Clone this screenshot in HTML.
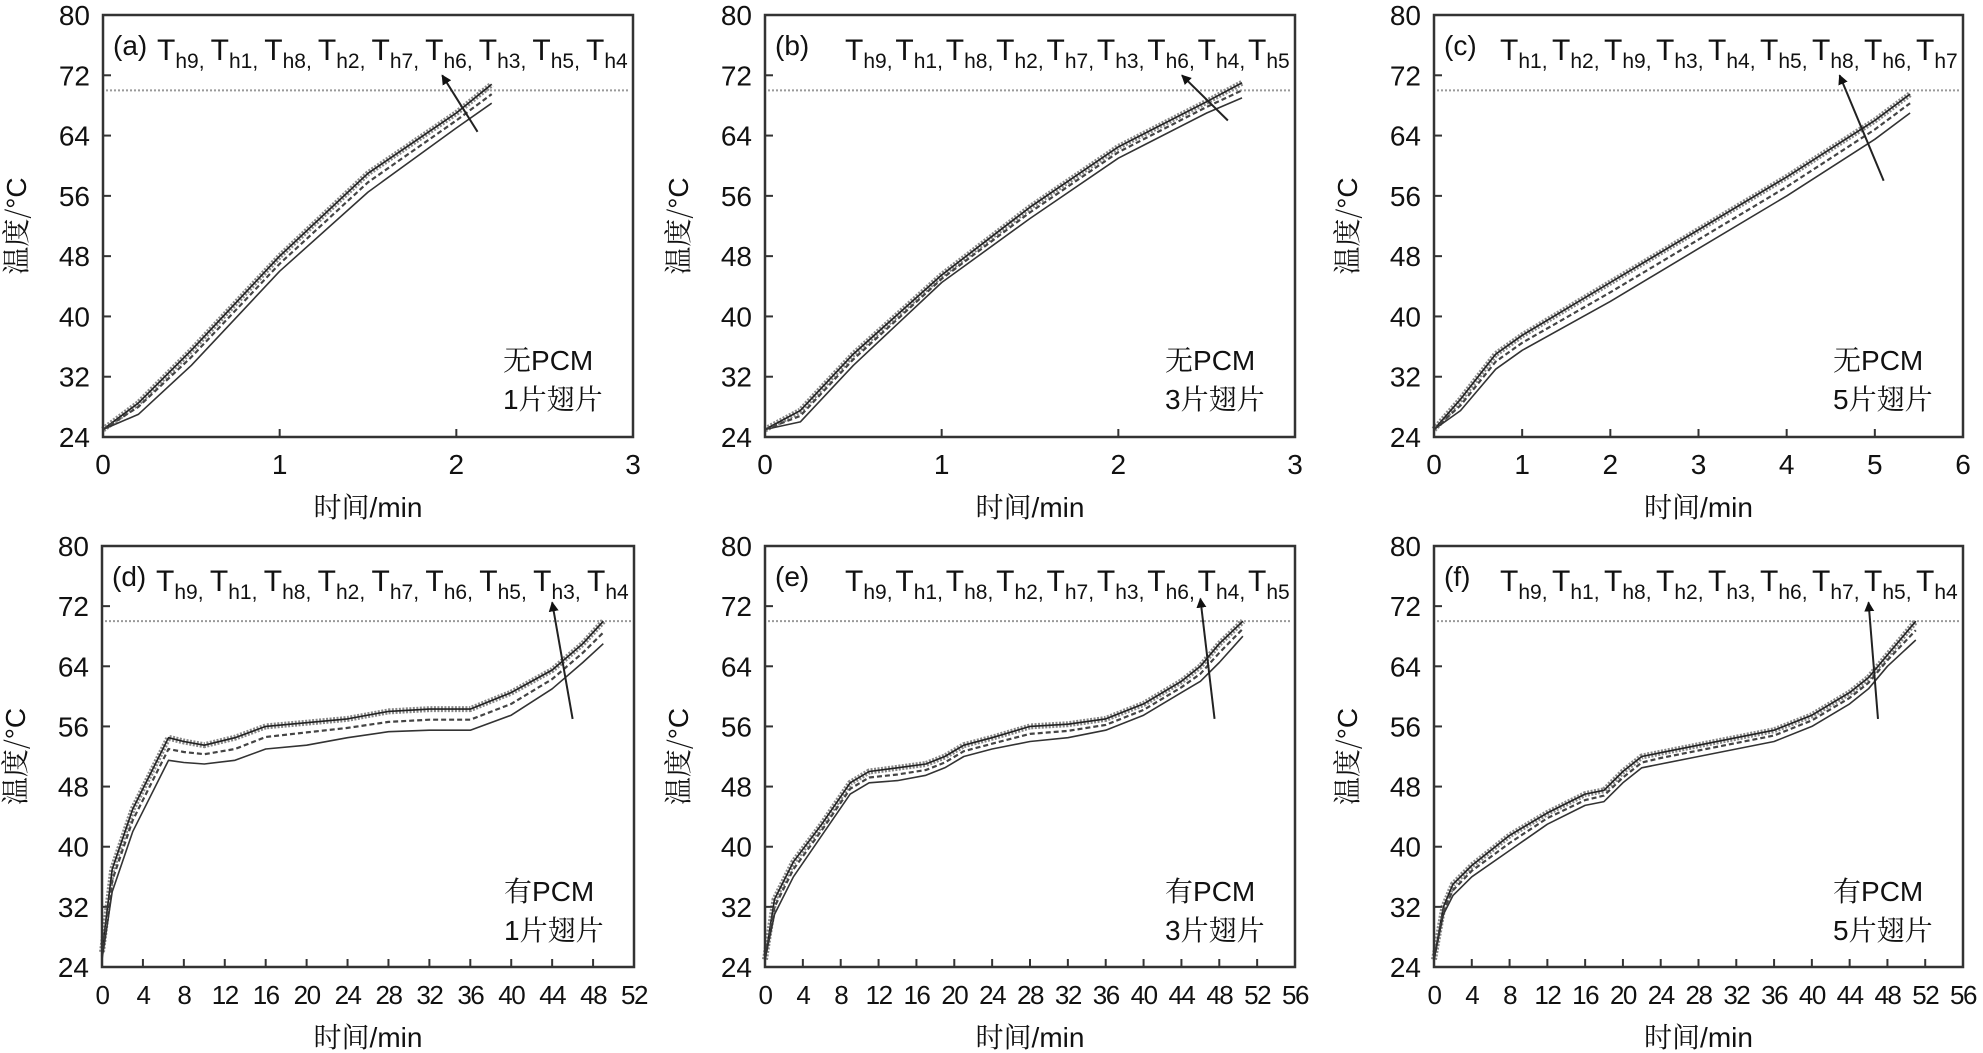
<!DOCTYPE html>
<html><head><meta charset="utf-8">
<style>
html,body{margin:0;padding:0;background:#fff;}
svg{display:block;}
text{fill:#111;}
</style></head>
<body>
<svg id="fig" width="1983" height="1053" viewBox="0 0 1983 1053" xmlns="http://www.w3.org/2000/svg"></svg>
<script>
// ---- data ----
const yTicks = [24, 32, 40, 48, 56, 64, 72, 80];
const xTicksA = [0, 1, 2, 3];
const xTicksB = [0, 1, 2, 3];
const xTicksC = [0, 1, 2, 3, 4, 5, 6];
const xTicksD = [0, 4, 8, 12, 16, 20, 24, 28, 32, 36, 40, 44, 48, 52];
const xTicksE = [0, 4, 8, 12, 16, 20, 24, 28, 32, 36, 40, 44, 48, 52, 56];
const xTicksF = [0, 4, 8, 12, 16, 20, 24, 28, 32, 36, 40, 44, 48, 52, 56];
const limitTemp = 70;

const labelsA = ["h9","h1","h8","h2","h7","h6","h3","h5","h4"];
const labelsB = ["h9","h1","h8","h2","h7","h3","h6","h4","h5"];
const labelsC = ["h1","h2","h9","h3","h4","h5","h8","h6","h7"];
const labelsD = ["h9","h1","h8","h2","h7","h6","h5","h3","h4"];
const labelsE = ["h9","h1","h8","h2","h7","h3","h6","h4","h5"];
const labelsF = ["h9","h1","h8","h2","h3","h6","h7","h5","h4"];

// panel a
const timeA  = [0, 0.2, 0.5, 1, 1.5, 2, 2.2];
const upperA = [25, 28.5, 35.5, 48, 59, 67, 70.8];
const midA   = [25, 28, 34.6, 47, 57.8, 66, 69.5];
const lowerA = [25, 27, 33.5, 46, 56.5, 65, 68.3];
// panel b
const timeB  = [0, 0.2, 0.5, 1, 1.5, 2, 2.5, 2.7];
const upperB = [25, 27.5, 35, 45.5, 54.5, 62.5, 68.5, 71];
const midB   = [25, 26.8, 34.3, 45, 53.8, 61.8, 67.8, 70];
const lowerB = [25, 26, 33.5, 44.5, 53, 61, 67, 69];
// panel c
const timeC  = [0, 0.3, 0.7, 1, 2, 3, 4, 5, 5.4];
const upperC = [25, 29, 35, 37.5, 44.5, 51.5, 58.5, 66, 69.5];
const midC   = [25, 28.2, 34, 36.5, 43.2, 50.2, 57.2, 64.8, 68.3];
const lowerC = [25, 27.5, 33, 35.5, 42, 49, 56, 63.5, 67];
// panel d
const timeD  = [0, 1, 3, 6.5, 8, 10, 13, 16, 20, 24, 28, 32, 36, 40, 44, 47, 49];
const upperD = [26, 37, 45, 54.5, 54, 53.5, 54.5, 56, 56.5, 57, 58, 58.3, 58.3, 60.5, 63.5, 67, 70];
const midD   = [25.5, 35.5, 43.5, 53, 52.6, 52.3, 53, 54.6, 55.2, 55.8, 56.6, 56.9, 56.9, 59, 62.3, 65.8, 68.5];
const lowerD = [25, 34, 42, 51.5, 51.2, 51, 51.5, 53, 53.5, 54.5, 55.3, 55.5, 55.5, 57.5, 61, 64.5, 67];
// panel e
const timeE  = [0, 1, 3, 6, 9, 11, 14, 17, 19, 21, 24, 28, 32, 36, 40, 44, 46, 48, 50.5];
const upperE = [25, 33, 38, 43, 48.5, 50, 50.5, 51, 52, 53.5, 54.5, 56, 56.3, 57, 59, 62, 64, 67, 70];
const midE   = [25, 32, 37, 42.2, 47.7, 49.2, 49.6, 50.2, 51.2, 52.7, 53.7, 55, 55.4, 56.2, 58.2, 61.2, 63, 65.8, 69];
const lowerE = [25, 31, 36, 41.5, 47, 48.5, 48.8, 49.5, 50.5, 52, 53, 54, 54.5, 55.5, 57.5, 60.5, 62, 64.5, 68];
// panel f
const timeF  = [0, 1, 2, 4, 8, 12, 16, 18, 20, 22, 24, 28, 32, 36, 40, 44, 46, 48, 51];
const upperF = [25, 32, 35, 37.5, 41.5, 44.5, 47, 47.5, 50, 52, 52.5, 53.5, 54.5, 55.5, 57.5, 60.5, 62.5, 65.5, 70];
const midF   = [25, 31.5, 34.2, 36.8, 40.5, 43.8, 46.2, 46.8, 49.2, 51.2, 51.8, 52.8, 53.8, 54.8, 56.8, 59.8, 61.8, 64.8, 68.8];
const lowerF = [25, 31, 33.5, 36, 39.5, 43, 45.5, 46, 48.5, 50.5, 51, 52, 53, 54, 56, 59, 61, 64, 67.5];

// arrows [x0,y0,x1,y1] in data units (tail -> head)
const arrowA = [2.12, 64.5, 1.92, 72];
const arrowB = [2.62, 66, 2.36, 72];
const arrowC = [5.1, 58, 4.6, 72];
const arrowD = [46, 57, 44, 72.5];
const arrowE = [47.5, 57, 46, 73];
const arrowF = [47, 57, 46, 72.5];

const panels = [
 {id:"a", tag:"(a)", lx:54, left:103, top:15, w:530, h:422, xmax:3, xt:xTicksA, t:timeA, up:upperA, mid:midA, lo:lowerA, labels:labelsA, arrow:arrowA, pcm:"无PCM", fin:"1片翅片"},
 {id:"b", tag:"(b)", lx:80, left:765, top:15, w:530, h:422, xmax:3, xt:xTicksB, t:timeB, up:upperB, mid:midB, lo:lowerB, labels:labelsB, arrow:arrowB, pcm:"无PCM", fin:"3片翅片"},
 {id:"c", tag:"(c)", lx:66, left:1434, top:15, w:529, h:422, xmax:6, xt:xTicksC, t:timeC, up:upperC, mid:midC, lo:lowerC, labels:labelsC, arrow:arrowC, pcm:"无PCM", fin:"5片翅片"},
 {id:"d", tag:"(d)", lx:54, left:102, top:546, w:532, h:421, xmax:52, xt:xTicksD, t:timeD, up:upperD, mid:midD, lo:lowerD, labels:labelsD, arrow:arrowD, pcm:"有PCM", fin:"1片翅片"},
 {id:"e", tag:"(e)", lx:80, left:765, top:546, w:530, h:421, xmax:56, xt:xTicksE, t:timeE, up:upperE, mid:midE, lo:lowerE, labels:labelsE, arrow:arrowE, pcm:"有PCM", fin:"3片翅片"},
 {id:"f", tag:"(f)", lx:66, left:1434, top:546, w:529, h:421, xmax:56, xt:xTicksF, t:timeF, up:upperF, mid:midF, lo:lowerF, labels:labelsF, arrow:arrowF, pcm:"有PCM", fin:"5片翅片"}
];

const NS = "http://www.w3.org/2000/svg";
const svg = document.getElementById("fig");
const SANS = '"Liberation Sans", "Noto Sans CJK SC", sans-serif';
const SERIFCJK = '"Noto Serif CJK SC", "Liberation Serif", serif';

function mk(tag, attrs, parent){
  const e = document.createElementNS(NS, tag);
  for (const k in attrs) e.setAttribute(k, attrs[k]);
  parent.appendChild(e);
  return e;
}

const defs = mk("defs", {}, svg);
const marker = mk("marker", {id:"ah", viewBox:"0 0 10 10", refX:"9", refY:"5", markerWidth:"5", markerHeight:"6", orient:"auto-start-reverse"}, defs);
mk("path", {d:"M0,0 L10,5 L0,10 z", fill:"#111"}, marker);

panels.forEach(p => {
  const g = mk("g", {}, svg);
  
  
  const sx = v => p.left + v / p.xmax * p.w;
  const sy = v => p.top + p.h - (v - 24) / 56 * p.h;
  const bottom = p.top + p.h;

  const lim = mk("line", {x1:p.left+3, x2:p.left+p.w-3, y1:sy(limitTemp), y2:sy(limitTemp), stroke:"#999", "stroke-width":2, "stroke-dasharray":"2 2"}, g);
  
  

  const path = arr => p.t.map((tv,i)=> (i?"L":"M") + sx(tv).toFixed(1) + "," + sy(arr[i]).toFixed(1)).join(" ");
  const s1 = mk("path", {d:path(p.up), fill:"none", stroke:"#888", "stroke-width":6, "stroke-dasharray":"2 1.5", "stroke-linejoin":"round"}, g);
  
  
  const s2 = mk("path", {d:path(p.up), fill:"none", stroke:"#222", "stroke-width":1.6, "stroke-linejoin":"round"}, g);
  
  
  const s3 = mk("path", {d:path(p.mid), fill:"none", stroke:"#444", "stroke-width":2.2, "stroke-dasharray":"5 3", "stroke-linejoin":"round"}, g);
  
  
  const s4 = mk("path", {d:path(p.lo), fill:"none", stroke:"#333", "stroke-width":1.6, "stroke-linejoin":"round"}, g);
  
  

  const a = p.arrow;
  const ar = mk("line", {x1:sx(a[0]), y1:sy(a[1]), x2:sx(a[2]), y2:sy(a[3]), stroke:"#222", "stroke-width":2, "marker-end":"url(#ah)"}, g);
  
  

  const fr = mk("rect", {x:p.left, y:p.top, width:p.w, height:p.h, fill:"none", stroke:"#333", "stroke-width":2.5}, g);
  
  

  yTicks.forEach(v => {
    const y = sy(v);
    if (v > 24 && v < 80) {
      const tk = mk("line", {x1:p.left, x2:p.left+8, y1:y, y2:y, stroke:"#333", "stroke-width":2}, g);
      
      
    }
    const tl = mk("text", {x:p.left-13, y:y+10, "text-anchor":"end", "font-size":28, "font-family":SANS}, g);
    tl.textContent = v;
    
    
  });
  p.xt.forEach(v => {
    const x = sx(v);
    if (v > 0 && v < p.xmax) {
      const tk = mk("line", {x1:x, x2:x, y1:bottom, y2:bottom-8, stroke:"#333", "stroke-width":2}, g);
      
      
    }
    const tl = mk("text", {x:x, y:bottom+37, "text-anchor":"middle", "font-size":p.xt.length>8?26:28, "letter-spacing":p.xt.length>8?-1.5:0, "font-family":SANS}, g);
    tl.textContent = v;
    
    
  });

  const xt = mk("text", {x:p.left+p.w/2, y:bottom+80, "text-anchor":"middle", "font-size":28}, g);
  
  
  const x1 = mk("tspan", {"font-family":SERIFCJK}, xt); x1.textContent = "时间";
  const x2 = mk("tspan", {"font-family":SANS}, xt); x2.textContent = "/min";

  const yc = p.top + p.h/2;
  const yt = mk("text", {x:0, y:0, "text-anchor":"middle", "font-size":28, transform:"translate(" + (p.left-77) + "," + yc + ") rotate(-90)"}, g);
  
  
  const y1 = mk("tspan", {"font-family":SERIFCJK}, yt); y1.textContent = "温度/";
  const y2 = mk("tspan", {"font-family":SANS}, yt); y2.textContent = "°C";

  const tg = mk("text", {x:p.left+10, y:p.top+40, "font-size":28, "font-family":SANS}, g);
  tg.textContent = p.tag;
  
  

  const lg = mk("g", {}, g);
  
  
  const startX = p.left + p.lx, step = (p.w - p.lx - 47) / 8;
  p.labels.forEach((lab, i) => {
    const t = mk("text", {x:startX + i*step, y:p.top+45, "font-size":30, "font-family":SANS}, lg);
    
    
    const a1 = mk("tspan", {}, t); a1.textContent = "T";
    const a2 = mk("tspan", {"font-size":21, dy:8}, t); a2.textContent = lab;
    if (i < p.labels.length - 1) { const a3 = mk("tspan", {"font-size":21}, t); a3.textContent = ","; }
  });

  const n1 = mk("text", {x:p.left+p.w-130, y:p.top+355, "font-size":28, "font-family":SANS}, g);
  
  
  const n1a = mk("tspan", {"font-family":SERIFCJK}, n1); n1a.textContent = p.pcm.slice(0,1);
  const n1b = mk("tspan", {}, n1); n1b.textContent = p.pcm.slice(1);
  const n2 = mk("text", {x:p.left+p.w-130, y:p.top+394, "font-size":28, "font-family":SANS}, g);
  
  
  const n2a = mk("tspan", {}, n2); n2a.textContent = p.fin.slice(0,1);
  const n2b = mk("tspan", {"font-family":SERIFCJK}, n2); n2b.textContent = p.fin.slice(1);
});
</script>
</body></html>
